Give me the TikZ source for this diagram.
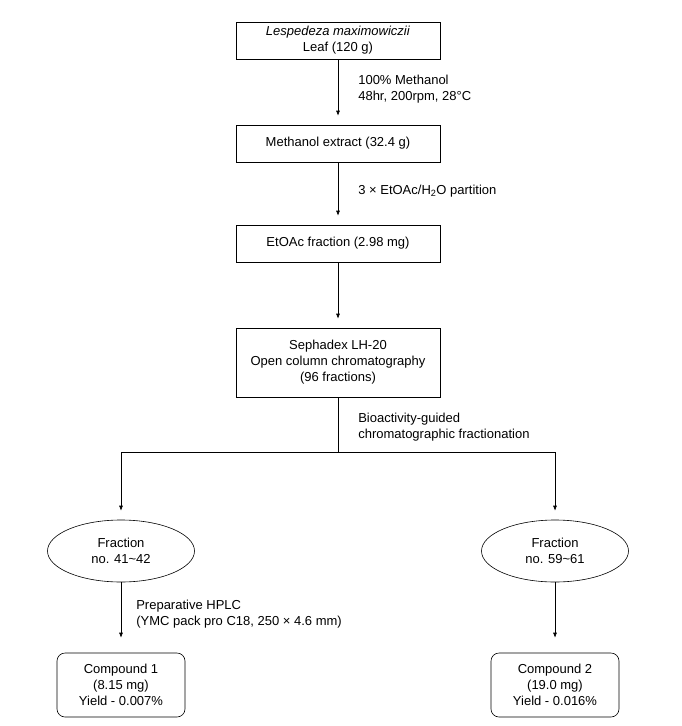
\documentclass[tikz,border=0pt]{standalone}
\usepackage{fontspec}
\setmainfont{Liberation Sans}
\usepackage{tikz}
\usetikzlibrary{arrows.meta, calc, shapes.geometric}

\begin{document}
\begin{tikzpicture} [x=1pt, y=-1pt, line width=0.6pt,
	font=\fontsize{13}{16}\selectfont,
	every node/.style={align=center, inner sep=0pt},
	stepbox/.style={draw, minimum width=204pt, minimum height=37pt},
	fracnode/.style={draw, ellipse, minimum width=147pt, minimum height=62pt},
	cmpdbox/.style={draw, rounded corners=8pt, minimum width=128pt, minimum height=64pt},
	note/.style={anchor=west, align=left},
	flow/.style={-{Latex[length=5pt, width=4pt]}, shorten >=9pt}]
	%    y runs downward, 1pt per pixel of the original
	
	\useasboundingbox (0,0) rectangle (682,726);
	
	\node[stepbox] (leaf) at (338,40.5) {\textit{Lespedeza maximowiczii}\\Leaf (120 g)};
	\node[stepbox] (meoh) at (338,143.5) {Methanol extract (32.4 g)};
	\node[stepbox] (etoac) at (338,243.5) {EtOAc fraction (2.98 mg)};
	\node[stepbox, minimum height=69pt] (seph) at (338,362.5) {Sephadex LH-20\\Open column chromatography\\(96 fractions)};
	\coordinate (split) at (338,452);
	
	\node[fracnode] (frac1) at (121,551) {Fraction\\no. 41\textasciitilde42};
	\node[fracnode] (frac2) at (555,551) {Fraction\\no. 59\textasciitilde61};
	\node[cmpdbox] (cmpd1) at (121,685) {Compound 1\\(8.15 mg)\\Yield - 0.007\%};
	\node[cmpdbox] (cmpd2) at (555,685) {Compound 2\\(19.0 mg)\\Yield - 0.016\%};
	
	\node[note] (extract) at (358,89) {100\% Methanol\\48hr, 200rpm, 28°C};
	\node[note] (partition) at (358,191) {3 × EtOAc/H\textsubscript{2}O partition};
	\node[note] (guided) at (358,427) {Bioactivity-guided\\chromatographic fractionation};
	\node[note] (hplc) at (136,614) {Preparative HPLC\\(YMC pack pro C18, 250 × 4.6 mm)};
	
	\draw[flow] (leaf) -- (meoh);
	\draw[flow] (meoh) -- (etoac);
	\draw[flow] (etoac) -- (seph);
	\draw (seph) -- (split);
	\draw[flow] (split) -| (frac1); % <- branch to the left
	\draw[flow] (split) -| (frac2);
	\draw[flow, shorten >=15pt] (frac1) -- (cmpd1);
	\draw[flow, shorten >=15pt] (frac2) -- (cmpd2);
	
\end{tikzpicture}
\end{document}
